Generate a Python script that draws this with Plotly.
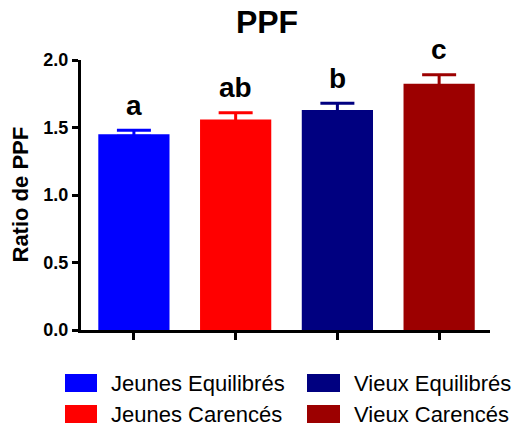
import plotly.graph_objects as go

groups = ["Jeunes Equilibrés", "Jeunes Carencés", "Vieux Equilibrés", "Vieux Carencés"]
values = [1.45, 1.56, 1.63, 1.825]
errors = [0.03, 0.05, 0.05, 0.065]
letters = ["a", "ab", "b", "c"]
colors = ["#0000FF", "#FF0000", "#000080", "#9C0000"]
yticks = [0.0, 0.5, 1.0, 1.5, 2.0]

FONT = "Liberation Sans, Arial, sans-serif"

fig = go.Figure()
for i, g in enumerate(groups):
    fig.add_trace(go.Bar(
        x=[i], y=[values[i]], name=g, width=0.7,
        marker=dict(color=colors[i], line=dict(width=0)),
        # lower cap hidden inside the bar (same colour)
        error_y=dict(type="data", symmetric=False, array=[errors[i]],
                     arrayminus=[0.015], thickness=3, width=17, color=colors[i]),
        showlegend=False,
    ))
    fig.add_annotation(x=i, y=values[i] + errors[i], text=letters[i],
                       showarrow=False, yanchor="middle", yshift=25,
                       font=dict(family=FONT, size=28, color="black", weight="bold"))

# manual legend
leg_cols = [(65, 97, 109), (307, 340, 352)]
leg_rows = [383, 414]
order = [(0, 0), (1, 0), (0, 1), (1, 1)]  # (row, col) for each group
for i, g in enumerate(groups):
    r, c = order[i]
    x0, x1, xt = leg_cols[c]
    yc = leg_rows[r]
    fig.add_shape(type="rect", xref="paper", yref="paper",
                  x0=(x0 - 81) / 409, x1=(x1 - 81) / 409,
                  y0=(330 - (yc + 9)) / 270, y1=(330 - (yc - 9)) / 270,
                  fillcolor=colors[i], line=dict(width=0))
    fig.add_annotation(xref="paper", yref="paper", x=(xt - 81) / 409,
                       y=(330 - yc) / 270, text=g, showarrow=False,
                       xanchor="left", yanchor="middle",
                       font=dict(family=FONT, size=22, color="black"))

fig.add_annotation(xref="paper", yref="paper", x=(19.5 - 81) / 409,
                   y=(330 - 195) / 270, text="Ratio de PPF", textangle=-90,
                   showarrow=False, xanchor="center", yanchor="middle",
                   font=dict(family=FONT, size=22, color="black", weight="bold"))

fig.update_layout(
    width=515, height=426,
    margin=dict(l=81, r=25, t=60, b=96),
    paper_bgcolor="white", plot_bgcolor="white",
    title=dict(text="<b>PPF</b>", x=267 / 515, xanchor="center",
               y=1 - 22 / 426, yanchor="middle", yref="container",
               font=dict(family=FONT, size=32, color="black")),
    xaxis=dict(range=[-0.52, 3.5], tickvals=list(range(len(groups))),
               ticktext=["", "", "", ""], showline=True, linewidth=3,
               linecolor="black", ticks="outside", ticklen=7, tickwidth=3,
               tickcolor="black", showgrid=False, zeroline=False, fixedrange=True),
    yaxis=dict(range=[0, 2.0], tickvals=yticks, tickformat=".1f",
               showline=True, linewidth=3, linecolor="black", ticks="outside",
               ticklen=6, tickwidth=3, tickcolor="black", showgrid=False,
               zeroline=False,
               tickfont=dict(family=FONT, size=18, color="black", weight="bold")),
    barmode="overlay",
)

fig.write_html("out.html")
